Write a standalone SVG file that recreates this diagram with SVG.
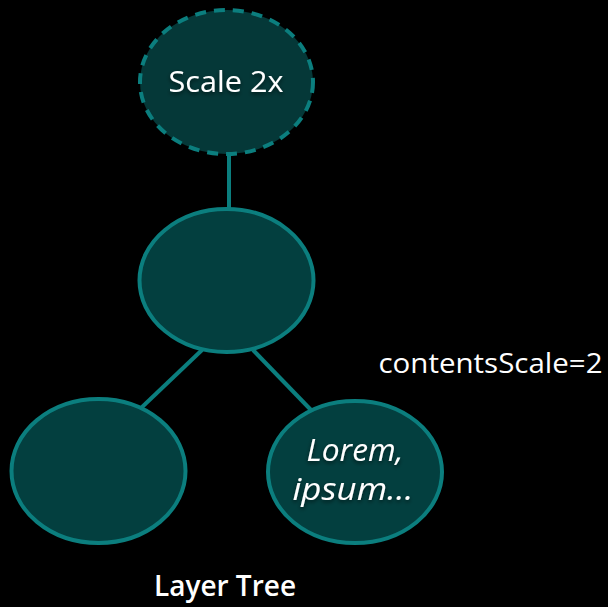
<svg xmlns="http://www.w3.org/2000/svg" width="608" height="607" viewBox="0 0 608 607">
  <style>
    .node { fill: #033f3f; stroke: #0b7e7e; stroke-width: 4; }
    .dashed { stroke-dasharray: 11 8; fill: #053838; }
    .edge { stroke: #0b7e7e; stroke-width: 4; fill: none; }
    .label { font-family: "Open Sans", "Noto Sans", sans-serif; fill: #ffffff; text-anchor: middle; }
  </style>
  <defs>
    <filter id="shadow" x="-20%" y="-20%" width="140%" height="140%">
      <feDropShadow dx="0" dy="2" stdDeviation="2" flood-color="#000" flood-opacity="0.6"/>
    </filter>
  </defs>
  <rect width="608" height="607" fill="#000000"/>

  <g id="connectors">
    <line class="edge" x1="229" y1="155" x2="229" y2="209"/>
    <line class="edge" x1="202" y1="350" x2="140" y2="409"/>
    <line class="edge" x1="253" y1="350" x2="311" y2="410"/>
  </g>

  <g id="scale-node">
    <ellipse class="node dashed" cx="226.5" cy="82" rx="86.5" ry="72"/>
    <text class="label" x="226" y="92" font-size="29.5" textLength="115" lengthAdjust="spacingAndGlyphs" filter="url(#shadow)">Scale 2x</text>
  </g>

  <g id="root-layer">
    <ellipse class="node" cx="226.5" cy="280.5" rx="87" ry="71.5"/>
  </g>

  <g id="left-layer">
    <ellipse class="node" cx="98.5" cy="471" rx="87" ry="72"/>
  </g>

  <g id="text-layer">
    <ellipse class="node" cx="355" cy="472" rx="87" ry="71"/>
    <text class="label" x="355" y="461" font-size="30.5" font-style="italic" textLength="97" lengthAdjust="spacingAndGlyphs" filter="url(#shadow)">Lorem,</text>
    <text class="label" x="353" y="500" font-size="30.5" font-style="italic" textLength="121" lengthAdjust="spacingAndGlyphs" filter="url(#shadow)">ipsum…</text>
  </g>

  <text class="label" x="490.5" y="373" font-size="27.5" textLength="224" lengthAdjust="spacingAndGlyphs">contentsScale=2</text>
  <text class="label" x="225" y="596" font-size="28" font-weight="600">Layer Tree</text>
</svg>
